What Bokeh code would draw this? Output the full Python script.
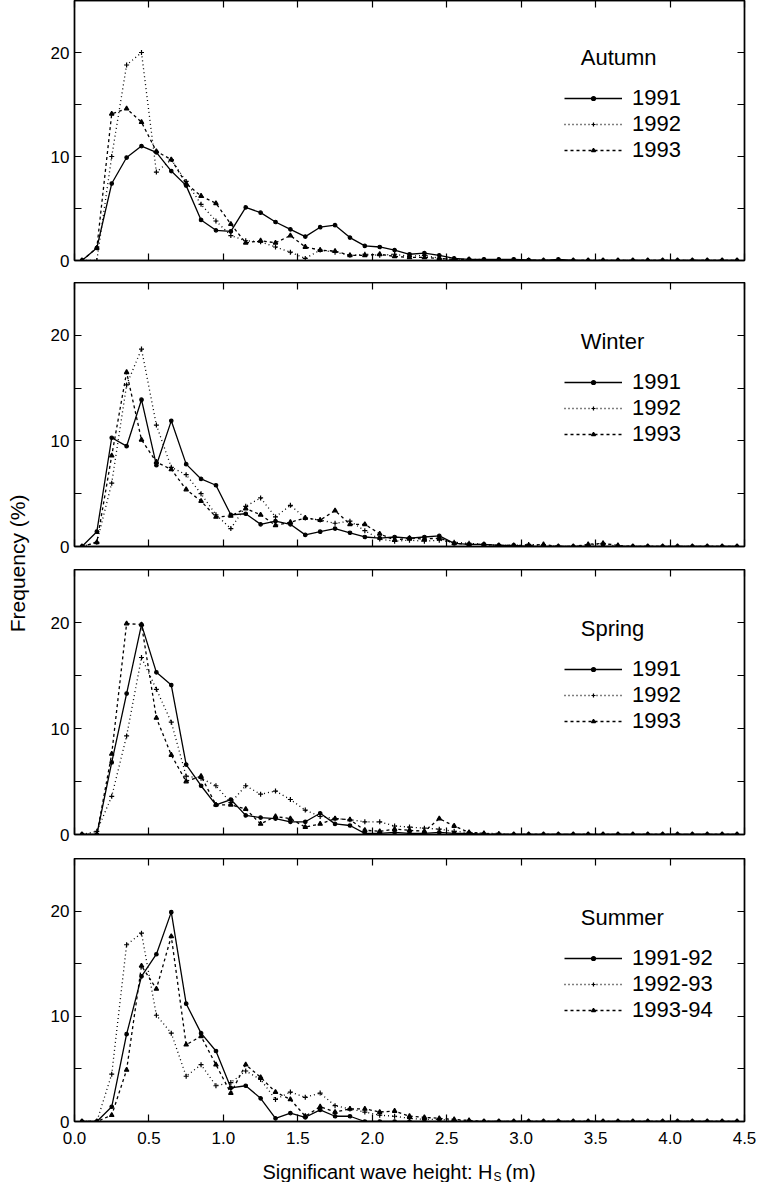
from bokeh.plotting import figure
from bokeh.models import Range1d, FixedTicker, LinearAxis, Label, Legend, LegendItem
from bokeh.layouts import column, row
from bokeh.embed import file_html
from bokeh.resources import INLINE

# ---------------- data ----------------
hs = [0.05, 0.15, 0.25, 0.35, 0.45, 0.55, 0.65, 0.75, 0.85, 0.95,
      1.05, 1.15, 1.25, 1.35, 1.45, 1.55, 1.65, 1.75, 1.85, 1.95,
      2.05, 2.15, 2.25, 2.35, 2.45, 2.55, 2.65, 2.75, 2.85, 2.95,
      3.05, 3.15, 3.25, 3.35, 3.45, 3.55, 3.65, 3.75, 3.85, 3.95,
      4.05, 4.15, 4.25, 4.35, 4.45]

x_ticks = [0.0, 0.5, 1.0, 1.5, 2.0, 2.5, 3.0, 3.5, 4.0, 4.5]
x_tick_labels = ["0.0", "0.5", "1.0", "1.5", "2.0", "2.5", "3.0", "3.5", "4.0", "4.5"]
y_ticks = [0, 10, 20]
y_minor_ticks = [5, 15]

autumn_1991 = [0, 1.2, 7.4, 9.9, 11.0, 10.4, 8.6, 7.2, 3.9, 2.9,
               2.8, 5.1, 4.6, 3.7, 3.0, 2.3, 3.2, 3.4, 2.2, 1.4,
               1.3, 1.0, 0.6, 0.7, 0.5, 0.2, 0.1, 0.1, 0.1, 0.1,
               0.05, 0, 0.1, 0, 0, 0, 0, 0, 0, 0,
               0, 0, 0, 0, 0]
autumn_1992 = [0, 0, 10.0, 18.8, 20.0, 8.5, 9.7, 7.6, 5.4, 3.8,
               2.4, 1.9, 1.8, 1.3, 0.8, 0.2, 1.0, 0.8, 0.5, 0.6,
               0.5, 0.6, 0.4, 0.5, 0.2, 0.1, 0.1, 0.1, 0, 0.1,
               0, 0, 0, 0, 0, 0, 0, 0, 0, 0,
               0, 0, 0, 0, 0]
autumn_1993 = [0, 1.2, 14.1, 14.6, 13.3, 10.5, 9.7, 7.4, 6.2, 5.5,
               3.5, 1.7, 1.9, 1.7, 2.4, 1.3, 1.0, 0.9, 0.5, 0.5,
               0.6, 0.4, 0.3, 0.3, 0.2, 0.1, 0.1, 0, 0, 0,
               0, 0, 0, 0, 0, 0, 0, 0, 0, 0,
               0, 0, 0, 0, 0]

winter_1991 = [0, 1.4, 10.3, 9.5, 13.9, 7.7, 11.9, 7.8, 6.4, 5.8,
               3.0, 3.1, 2.1, 2.4, 2.1, 1.1, 1.4, 1.7, 1.3, 0.9,
               0.8, 0.9, 0.8, 0.9, 1.0, 0.3, 0.2, 0.2, 0.1, 0.1,
               0, 0, 0, 0, 0, 0, 0, 0, 0, 0,
               0, 0, 0, 0, 0]
winter_1992 = [0, 0.4, 6.0, 15.3, 18.7, 11.5, 7.5, 6.8, 5.0, 3.0,
               1.7, 3.8, 4.6, 2.8, 3.9, 2.7, 2.5, 2.2, 2.4, 1.5,
               0.7, 0.5, 0.6, 0.5, 0.6, 0.4, 0.3, 0.2, 0.1, 0.1,
               0.2, 0.1, 0, 0, 0.1, 0.3, 0, 0, 0, 0,
               0, 0, 0, 0, 0]
winter_1993 = [0, 0.4, 8.6, 16.5, 10.1, 8.0, 7.3, 5.4, 4.3, 2.8,
               2.9, 3.6, 3.0, 2.0, 2.3, 2.7, 2.5, 3.4, 2.1, 2.1,
               1.2, 0.6, 0.8, 0.7, 0.8, 0.3, 0.2, 0.2, 0.1, 0.1,
               0.1, 0.2, 0, 0, 0.2, 0.3, 0.1, 0, 0, 0,
               0, 0, 0, 0, 0]

spring_1991 = [0, 0, 6.8, 13.3, 19.8, 15.3, 14.1, 6.6, 4.6, 2.8,
               3.3, 1.8, 1.6, 1.5, 1.2, 1.2, 2.0, 1.0, 0.85, 0.1,
               0.1, 0.2, 0.1, 0.1, 0.2, 0.1, 0.1, 0, 0, 0,
               0, 0, 0, 0, 0, 0, 0, 0, 0, 0,
               0, 0, 0, 0, 0]
spring_1992 = [0, 0.3, 3.6, 9.3, 16.7, 13.7, 10.6, 5.5, 5.3, 4.6,
               3.0, 4.6, 3.8, 4.1, 3.3, 2.3, 1.7, 1.5, 1.4, 1.2,
               1.2, 0.8, 0.7, 0.6, 0.5, 0.3, 0.2, 0.1, 0.1, 0,
               0, 0, 0, 0, 0, 0, 0, 0, 0, 0,
               0, 0, 0, 0, 0]
spring_1993 = [0, 0, 7.6, 19.9, 19.8, 11.0, 7.5, 5.0, 5.5, 2.8,
               2.8, 2.4, 1.0, 1.7, 1.5, 0.7, 1.0, 1.5, 1.4, 0.4,
               0.3, 0.5, 0.4, 0.3, 1.5, 0.8, 0.2, 0.1, 0, 0,
               0, 0, 0, 0, 0, 0, 0, 0, 0, 0,
               0, 0, 0, 0, 0]

summer_1991 = [0, 0, 1.4, 8.3, 13.8, 15.9, 19.9, 11.2, 8.4, 6.7,
               3.2, 3.4, 2.2, 0.3, 0.8, 0.4, 1.1, 0.5, 0.5, 0,
               0, 0, 0, 0, 0, 0, 0, 0, 0, 0,
               0, 0, 0, 0, 0, 0, 0, 0, 0, 0,
               0, 0, 0, 0, 0]
summer_1992 = [0, 0, 4.5, 16.8, 17.9, 10.1, 8.4, 4.3, 5.4, 3.4,
               3.7, 4.8, 4.0, 2.1, 2.8, 2.3, 2.7, 1.5, 1.2, 0.9,
               0.6, 0.5, 0.3, 0.2, 0.2, 0.1, 0, 0, 0, 0,
               0, 0, 0, 0, 0, 0, 0, 0, 0, 0,
               0, 0, 0, 0, 0]
summer_1993 = [0, 0, 0.6, 4.9, 14.8, 12.6, 17.6, 7.3, 8.1, 5.4,
               2.7, 5.4, 4.2, 2.8, 2.1, 0.5, 1.4, 0.9, 1.2, 1.2,
               0.9, 1.0, 0.5, 0.4, 0.3, 0.2, 0.1, 0, 0, 0,
               0, 0, 0, 0, 0, 0, 0, 0, 0, 0,
               0, 0, 0, 0, 0]

seasons = ["Autumn", "Winter", "Spring", "Summer"]
year_labels = [["1991", "1992", "1993"], ["1991", "1992", "1993"],
               ["1991", "1992", "1993"], ["1991-92", "1992-93", "1993-94"]]
season_data = [[autumn_1991, autumn_1992, autumn_1993],
               [winter_1991, winter_1992, winter_1993],
               [spring_1991, spring_1992, spring_1993],
               [summer_1991, summer_1992, summer_1993]]

# ---------------- style ----------------
FONT = "Liberation Sans"
dashes = ["solid", "1 3", "3 3"]
markers = ["circle", "cross", "triangle"]
msizes = [3.5, 5, 4.5]

frame_heights = [260, 264, 265, 263]
bottom_borders = [22, 23, 24, 33]
top_adjust = [-2, 0, 0, 0]
PANEL_W = 34 + 670 + 14


def style_axis(ax, ticker, show_labels, standoff=5):
    ax.ticker = ticker
    ax.axis_line_color = "black"
    ax.axis_line_width = 1.4
    ax.major_tick_in = 7
    ax.major_tick_out = 0
    ax.minor_tick_in = 7
    ax.minor_tick_out = 0
    ax.major_tick_line_color = "black"
    ax.minor_tick_line_color = "black"
    ax.major_tick_line_width = 1.2
    ax.minor_tick_line_width = 1.2
    if show_labels:
        ax.major_label_text_font = FONT
        ax.major_label_text_font_size = "17px"
        ax.major_label_text_color = "black"
        ax.major_label_standoff = standoff
    else:
        ax.major_label_overrides = {t: "" for t in ticker.ticks}
        ax.major_label_text_font_size = "1px"
        ax.major_label_standoff = 0


panels = []
for i in range(4):
    last = (i == 3)
    p = figure(frame_width=670, frame_height=frame_heights[i],
               x_range=Range1d(0, 4.5), y_range=Range1d(0, 25),
               output_backend="svg", toolbar_location=None,
               min_border_left=34, min_border_right=14,
               min_border_top=0, min_border_bottom=bottom_borders[i])
    p.xgrid.grid_line_color = None
    p.ygrid.grid_line_color = None
    p.outline_line_color = "black"
    p.outline_line_width = 1.4
    p.background_fill_color = "white"
    p.border_fill_color = "white"

    style_axis(p.xaxis[0], FixedTicker(ticks=x_ticks), last, standoff=10)
    if last:
        p.xaxis[0].major_label_overrides = {t: l for t, l in zip(x_ticks, x_tick_labels)}
    style_axis(p.yaxis[0], FixedTicker(ticks=y_ticks, minor_ticks=y_minor_ticks), True)

    top = LinearAxis()
    style_axis(top, FixedTicker(ticks=x_ticks), False)
    p.add_layout(top, "above")
    right = LinearAxis()
    style_axis(right, FixedTicker(ticks=y_ticks + y_minor_ticks), False)
    p.add_layout(right, "right")

    items = []
    for j in range(3):
        ys = season_data[i][j]
        lr = p.line(hs, ys, line_color="black", line_width=1.3, line_dash=dashes[j])
        sr = p.scatter(hs, ys, marker=markers[j], size=msizes[j],
                       fill_color="black", line_color="black", line_width=1.2)
        items.append(LegendItem(label=year_labels[i][j], renderers=[lr, sr]))

    fh = frame_heights[i]
    r1 = 100 + top_adjust[i]
    leg = Legend(items=items, location=(490, fh - (r1 + 65)),
                 border_line_color=None, background_fill_alpha=0,
                 padding=0, margin=0, spacing=0, glyph_width=58, glyph_height=10,
                 label_height=26, label_standoff=10,
                 label_text_font=FONT, label_text_font_size="22px",
                 label_text_color="black")
    p.add_layout(leg)

    t_off = 59 + top_adjust[i]
    p.add_layout(Label(x=3.40, y=25 - t_off / (fh / 25.0), text=seasons[i],
                       text_font=FONT, text_font_size="22px", text_color="black",
                       text_align="left", text_baseline="middle"))
    panels.append(p)

# x-axis title strip (with subscript), pixel-unit coordinates
XT_H = 28
xt = figure(width=PANEL_W, height=XT_H, x_range=Range1d(0, PANEL_W), y_range=Range1d(0, XT_H),
            output_backend="svg", toolbar_location=None, min_border=0)
xt.axis.visible = False
xt.grid.visible = False
xt.outline_line_color = None
xt.add_layout(Label(x=448, y=11, text="Significant wave height: H",
                    text_font=FONT, text_font_size="20px", text_color="black",
                    text_align="right", text_baseline="middle"))
xt.add_layout(Label(x=449, y=6, text="S",
                    text_font=FONT, text_font_size="12px", text_color="black",
                    text_align="left", text_baseline="middle"))
xt.add_layout(Label(x=462, y=11, text="(m)",
                    text_font=FONT, text_font_size="20px", text_color="black",
                    text_align="left", text_baseline="middle"))

# y-axis title in its own narrow strip
total_h = sum(frame_heights) + sum(bottom_borders) + XT_H
yl = figure(width=40, height=total_h, x_range=Range1d(0, 40), y_range=Range1d(0, total_h),
            output_backend="svg", toolbar_location=None, min_border=0)
yl.axis.visible = False
yl.grid.visible = False
yl.outline_line_color = None
yl.add_layout(Label(x=17, y=total_h - 560, text="Frequency  (%)", angle=1.5708,
                    text_font=FONT, text_font_size="21px", text_color="black",
                    text_align="center", text_baseline="middle"))

layout = row(yl, column(*panels, xt, spacing=0), spacing=0)
open("out.html", "w").write(file_html(layout, INLINE))
